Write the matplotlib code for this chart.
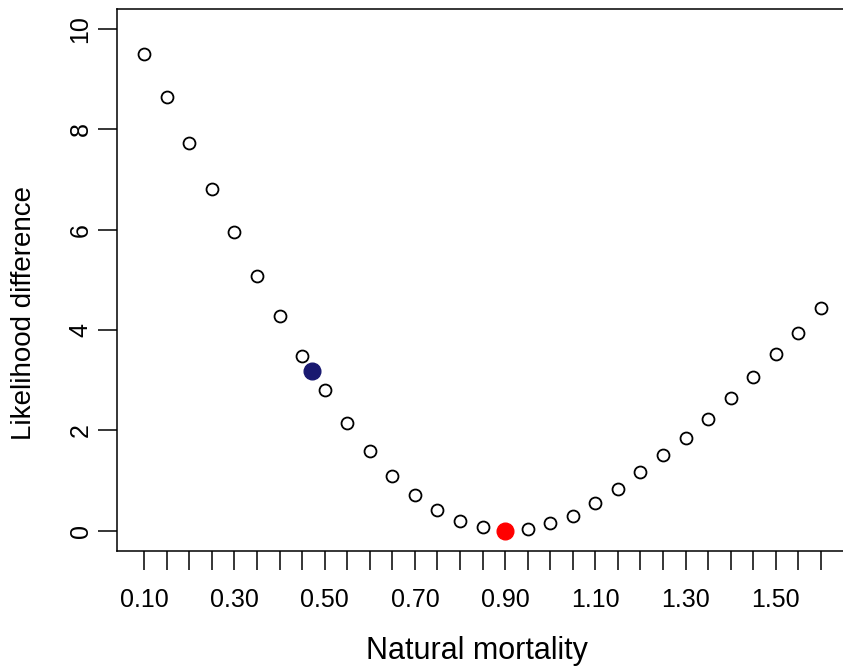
import matplotlib
matplotlib.use("Agg")
import matplotlib.pyplot as plt

plt.rcParams['font.family'] = ['Liberation Sans', 'DejaVu Sans']

# likelihood profile over natural mortality
m_vals = [0.10, 0.15, 0.20, 0.25, 0.30, 0.35, 0.40, 0.45, 0.50, 0.55,
          0.60, 0.65, 0.70, 0.75, 0.80, 0.85, 0.90, 0.95, 1.00, 1.05,
          1.10, 1.15, 1.20, 1.25, 1.30, 1.35, 1.40, 1.45, 1.50, 1.55, 1.60]
like_diff = [9.51, 8.64, 7.73, 6.82, 5.95, 5.08, 4.28, 3.48, 2.80, 2.15,
             1.59, 1.09, 0.72, 0.41, 0.19, 0.08, 0.00, 0.04, 0.15, 0.30,
             0.56, 0.83, 1.17, 1.51, 1.85, 2.23, 2.65, 3.07, 3.52, 3.94, 4.44]

# highlighted points
prior_m = [0.471]
prior_diff = [3.19]
best_m = [0.90]
best_diff = [0.00]

x_ticks = m_vals
x_tick_labels = ['0.10', '0.30', '0.50', '0.70', '0.90', '1.10', '1.30', '1.50']
y_ticks = [0, 2, 4, 6, 8, 10]

fig = plt.figure(figsize=(8.43, 6.71), dpi=100)
ax = fig.add_axes([117.2 / 843, 120.3 / 671, 730.8 / 843, 541.7 / 671])

ax.plot(m_vals, like_diff, linestyle='none', marker='o', markersize=8.6,
        markerfacecolor='none', markeredgecolor='black', markeredgewidth=1.3)
ax.plot(prior_m, prior_diff, linestyle='none', marker='o', markersize=12,
        color='midnightblue')
ax.plot(best_m, best_diff, linestyle='none', marker='o', markersize=12,
        color='red')

ax.set_xlim(0.04, 1.66)
ax.set_ylim(-0.4, 10.4)

ax.set_xticks(x_ticks)
lab_map = {float(l): l for l in x_tick_labels}
ax.set_xticklabels([lab_map.get(round(t, 2), '') for t in x_ticks])
ax.set_yticks(y_ticks)
ax.set_yticklabels([str(v) for v in y_ticks], rotation=90, va='center')

ax.tick_params(axis='both', direction='out', length=13.7, width=1.1,
               labelsize=18, color='black')
ax.tick_params(axis='x', pad=13)
ax.tick_params(axis='y', pad=4)

for sp in ax.spines.values():
    sp.set_linewidth(1.1)

ax.set_xlabel('Natural mortality', fontsize=22, va='baseline')
ax.xaxis.set_label_coords(0.4923, -0.2005)
ax.set_ylabel('Likelihood difference', fontsize=20, va='center')
ax.yaxis.set_label_coords(-0.128, 0.4397)

fig.savefig('out.png', dpi=100)
